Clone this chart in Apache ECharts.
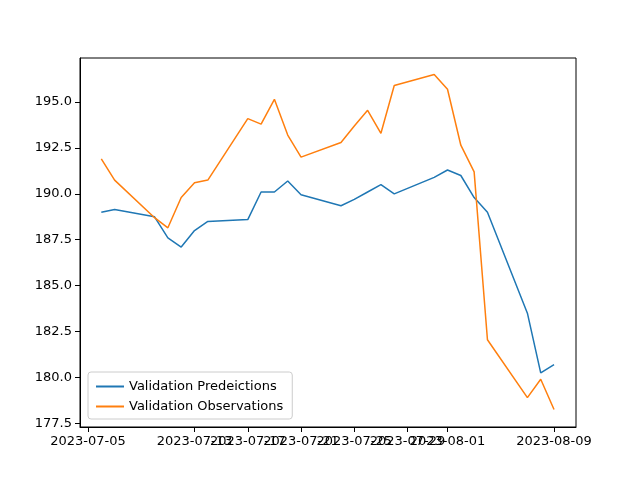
<!DOCTYPE html>
<html>
<head>
<meta charset="utf-8">
<script src="https://cdn.jsdelivr.net/npm/echarts@6/dist/echarts.min.js"></script>
<style>html,body{margin:0;background:#fff}#c{width:640px;height:480px}</style>
</head>
<body>
<div id="c"></div>
<script>
const dates = ['2023-07-06','2023-07-07','2023-07-10','2023-07-11','2023-07-12','2023-07-13','2023-07-14',
  '2023-07-17','2023-07-18','2023-07-19','2023-07-20','2023-07-21','2023-07-24','2023-07-25','2023-07-26',
  '2023-07-27','2023-07-28','2023-07-31','2023-08-01','2023-08-02','2023-08-03','2023-08-04','2023-08-07',
  '2023-08-08','2023-08-09'];
const predictions = [189.0,189.15,188.75,187.6,187.1,188.0,188.5,188.6,190.1,190.1,190.7,189.95,189.35,189.7,
  190.1,190.5,190.0,190.9,191.3,191.0,189.8,189.0,183.5,180.25,180.7];
const observations = [191.9,190.75,188.7,188.15,189.8,190.6,190.75,194.1,193.8,195.15,193.2,192.0,192.8,193.7,
  194.55,193.3,195.9,196.5,195.7,192.65,191.2,182.05,178.9,179.9,178.25];
const tickDates = ['2023-07-05','2023-07-09','2023-07-13','2023-07-17','2023-07-21','2023-07-25','2023-07-29',
  '2023-08-01','2023-08-05','2023-08-09'];
const yTicks = [177.5, 180.0, 182.5, 185.0, 187.5, 190.0, 192.5, 195.0];

const origin = Date.UTC(2023, 6, 5);
const day = s => (Date.parse(s + 'T00:00:00Z') - origin) / 86400000;
const tickDays = tickDates.map(day);
const label = v => new Date(origin + Math.round(v) * 86400000).toISOString().slice(0, 10);

const chart = echarts.init(document.getElementById('c'));
const font = 'DejaVu Sans';
chart.setOption({
  animation: false,
  textStyle: {fontFamily: font},
  grid: {left: 80, right: 64, top: 58, bottom: 53},
  legend: {
    orient: 'vertical', left: 88, bottom: 61, itemGap: 7,
    itemWidth: 28, itemHeight: 2, icon: 'rect',
    padding: [8, 9, 6, 8], borderColor: '#ccc', borderWidth: 1, borderRadius: 3,
    textStyle: {fontSize: 13, color: '#000', fontFamily: font}
  },
  xAxis: {
    type: 'value', min: -0.6, max: 36.65,
    splitLine: {show: false},
    axisLine: {onZero: false, lineStyle: {color: '#000'}},
    axisTick: {customValues: tickDays, length: 5, lineStyle: {color: '#000'}},
    axisLabel: {customValues: tickDays, formatter: label, hideOverlap: false, showMinLabel: true,
      showMaxLabel: true, color: '#000', fontSize: 13, margin: 8}
  },
  yAxis: {
    type: 'value', min: 177.3, max: 197.4,
    splitLine: {show: false},
    axisLine: {show: true, onZero: false, lineStyle: {color: '#000'}},
    axisTick: {show: true, customValues: yTicks, length: 5, lineStyle: {color: '#000'}},
    axisLabel: {customValues: yTicks, formatter: v => v.toFixed(1), color: '#000', fontSize: 13, margin: 8}
  },
  series: [
    {name: 'Validation Predeictions', type: 'line', showSymbol: false, color: '#1f77b4',
      lineStyle: {width: 1.5}, data: dates.map((d, i) => [day(d), predictions[i]])},
    {name: 'Validation Observations', type: 'line', showSymbol: false, color: '#ff7f0e',
      lineStyle: {width: 1.5}, data: dates.map((d, i) => [day(d), observations[i]])}
  ],
  graphic: [{type: 'rect', shape: {x: 80, y: 58, width: 496, height: 369},
    style: {fill: 'none', stroke: '#000', lineWidth: 1}, silent: true}]
});
</script>
</body>
</html>
